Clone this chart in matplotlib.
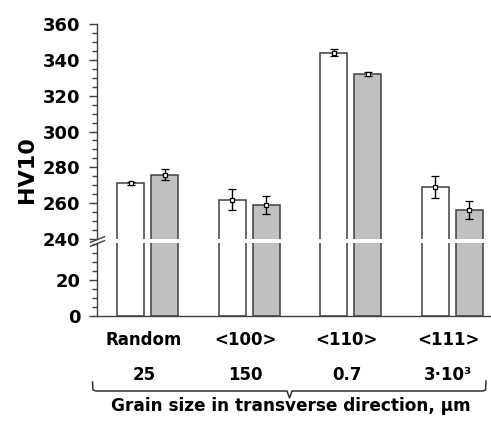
import matplotlib
matplotlib.use("Agg")
import matplotlib.pyplot as plt
import numpy as np
from matplotlib.lines import Line2D
from matplotlib.ticker import MultipleLocator

# data
categories = ["Random", "<100>", "<110>", "<111>"]
grain_sizes = ["25", "150", "0.7", "3·10³"]
hv_white = [271, 262, 344, 269]
err_white = [1, 6, 2, 6]
hv_grey = [276, 259, 332, 256]
err_grey = [3, 5, 1, 5]

upper_ticks = [240, 260, 280, 300, 320, 340, 360]
lower_ticks = [0, 20]

W, H = 491, 423
EDGE = "#404040"
plt.rcParams["font.family"] = ["DejaVu Sans"]
plt.rcParams["font.weight"] = "bold"


def px_box(left, top, right, bottom):
    return [left / W, 1 - bottom / H, (right - left) / W, (bottom - top) / H]


fig = plt.figure(figsize=(W / 100, H / 100), dpi=100)
ax_top = fig.add_axes(px_box(97, 24, 490, 239))
ax_bot = fig.add_axes(px_box(97, 243, 490, 316))

x = np.arange(len(categories))
off = 0.167
bw = 0.265

for ax in (ax_top, ax_bot):
    ax.bar(x - off, hv_white, bw, color="white", edgecolor=EDGE, linewidth=1.1)
    ax.bar(x + off, hv_grey, bw, color="#c0c0c0", edgecolor=EDGE, linewidth=1.1)
    ax.set_xlim(-0.5, 3.37)
    ax.spines["top"].set_visible(False)
    ax.spines["right"].set_visible(False)
    for s in ("left", "bottom"):
        ax.spines[s].set_color(EDGE)
        ax.spines[s].set_linewidth(1.0)
    ax.yaxis.set_minor_locator(MultipleLocator(5))
    ax.tick_params(axis="y", which="major", length=6, width=1, color=EDGE,
                   labelsize=13, pad=6)
    ax.tick_params(axis="y", which="minor", length=3.5, width=1, color=EDGE)

err_kw = dict(fmt="s", ms=3.5, mfc="white", mec="black", mew=0.9,
              ecolor="black", elinewidth=1, capsize=3, capthick=1)
ax_top.errorbar(x - off, hv_white, yerr=err_white, **err_kw)
ax_top.errorbar(x + off, hv_grey, yerr=err_grey, **err_kw)

ax_top.set_ylim(240, 360)
ax_top.set_yticks(upper_ticks)
ax_top.spines["bottom"].set_visible(False)
ax_top.tick_params(axis="x", bottom=False, labelbottom=False)

ax_bot.set_ylim(0, 40.8)
ax_bot.set_yticks(lower_ticks)
ax_bot.set_xticks(x - 0.04, categories)
ax_bot.tick_params(axis="x", length=0, pad=10.5, labelsize=12)

# axis break marks
mk = [(-1, -0.4), (1, 0.4)]
for ax, yy in ((ax_top, 0), (ax_bot, 1)):
    ax.plot([0], [yy], transform=ax.transAxes, marker=mk, markersize=11,
            color=EDGE, mec=EDGE, mew=1, clip_on=False, linestyle="none")

# second label row: grain size
for xi, lab in zip(x, grain_sizes):
    ax_bot.annotate(lab, xy=(xi - 0.04, 0), xycoords=ax_bot.get_xaxis_transform(),
                    xytext=(0, -59), textcoords="offset pixels",
                    ha="center", va="center", fontsize=12, fontweight="bold")

# brace under the grain sizes
bx = [92.5, 93, 96, 287, 289.5, 292, 483, 485.5, 486]
by = [382, 390, 391, 391, 398, 391, 391, 390, 381]
fig.add_artist(Line2D([v / W for v in bx], [1 - v / H for v in by],
                      transform=fig.transFigure, color="#303030", lw=1.1))

fig.text(291 / W, 1 - 411 / H, "Grain size in transverse direction, μm",
         ha="center", va="baseline", fontsize=12.2, fontweight="bold")
fig.text(27 / W, 1 - 170 / H, "HV10", rotation=90, ha="center", va="center",
         fontsize=16, fontweight="bold")

fig.savefig("out.png", dpi=100)
